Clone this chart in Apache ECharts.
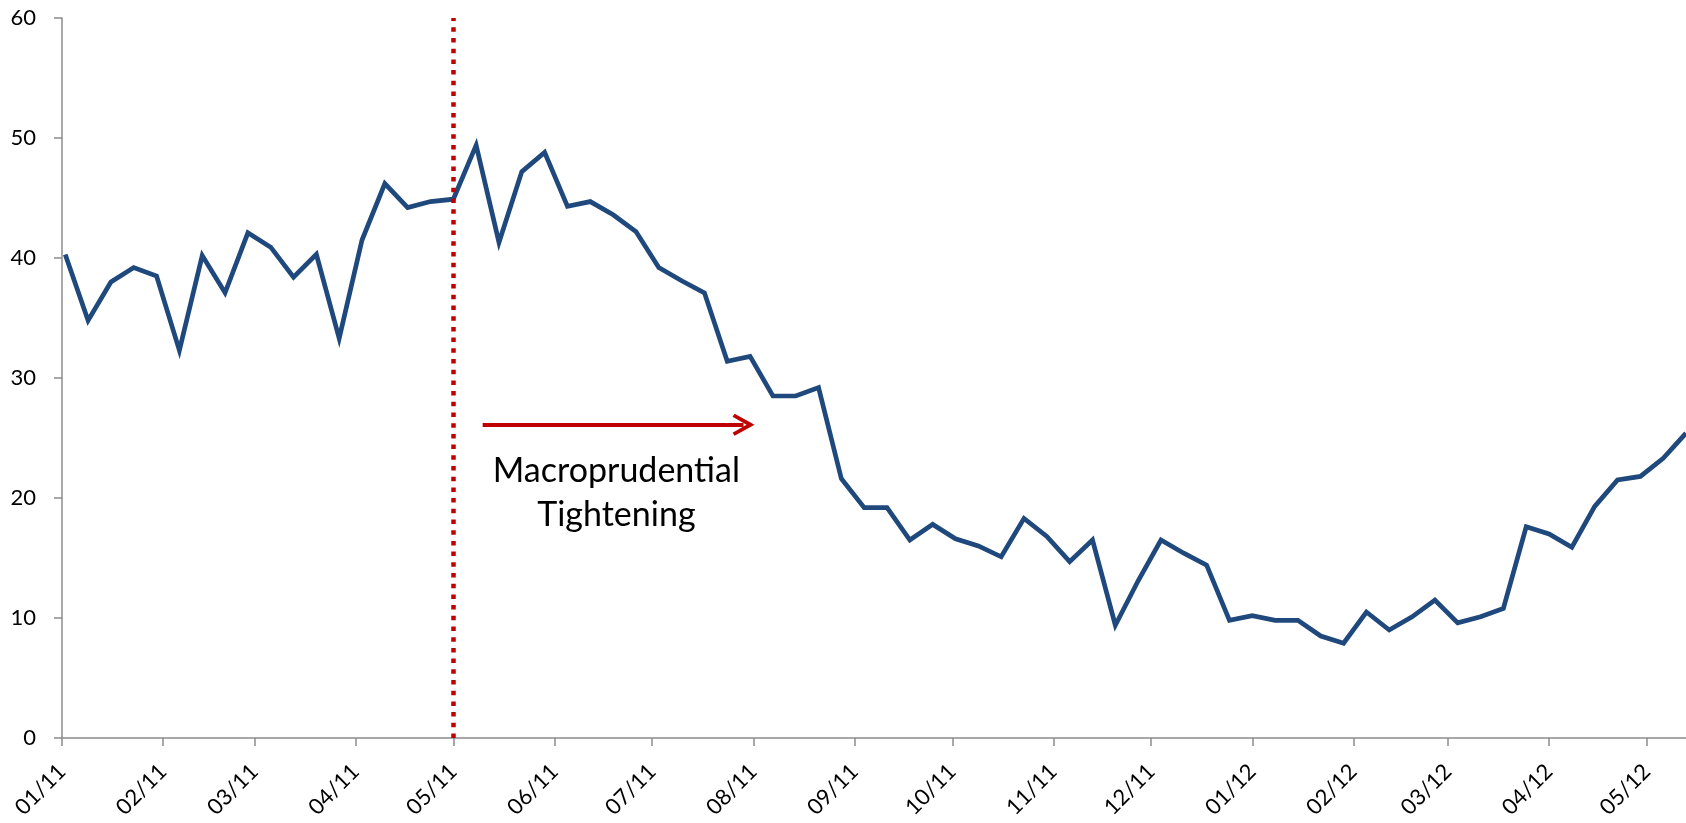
<!DOCTYPE html>
<html>
<head>
<meta charset="utf-8">
<script src="https://cdn.jsdelivr.net/npm/echarts@6/dist/echarts.min.js"></script>
<style>
html,body{margin:0;padding:0;background:#fff;}
#chart{width:1686px;height:823px;}
</style>
</head>
<body>
<div id="chart"></div>
<script>
// Weekly observation dates
const dates = [
 '2011-01-02','2011-01-09','2011-01-16','2011-01-23','2011-01-30',
 '2011-02-06','2011-02-13','2011-02-20','2011-02-27',
 '2011-03-06','2011-03-13','2011-03-20','2011-03-27',
 '2011-04-03','2011-04-10','2011-04-17','2011-04-24',
 '2011-05-01','2011-05-08','2011-05-15','2011-05-22','2011-05-29',
 '2011-06-05','2011-06-12','2011-06-19','2011-06-26',
 '2011-07-03','2011-07-10','2011-07-17','2011-07-24','2011-07-31',
 '2011-08-07','2011-08-14','2011-08-21','2011-08-28',
 '2011-09-04','2011-09-11','2011-09-18','2011-09-25',
 '2011-10-02','2011-10-09','2011-10-16','2011-10-23','2011-10-30',
 '2011-11-06','2011-11-13','2011-11-20','2011-11-27',
 '2011-12-04','2011-12-11','2011-12-18','2011-12-25',
 '2012-01-01','2012-01-08','2012-01-15','2012-01-22','2012-01-29',
 '2012-02-05','2012-02-12','2012-02-19','2012-02-26',
 '2012-03-04','2012-03-11','2012-03-18','2012-03-25',
 '2012-04-01','2012-04-08','2012-04-15','2012-04-22','2012-04-29',
 '2012-05-06','2012-05-13'
];
// Series values
const values = [
 40.3,34.8,38.0,39.2,38.5,
 32.3,40.2,37.1,42.1,
 40.9,38.4,40.3,33.3,
 41.5,46.2,44.2,44.7,
 44.9,49.4,41.3,47.2,48.8,
 44.3,44.7,43.6,42.2,
 39.2,38.1,37.1,31.4,31.8,
 28.5,28.5,29.2,21.6,
 19.2,19.2,16.5,17.8,
 16.6,16.0,15.1,18.3,16.8,
 14.7,16.5,9.4,13.1,
 16.5,15.4,14.4,9.8,
 10.2,9.8,9.8,8.5,7.9,
 10.5,9.0,10.1,11.5,
 9.6,10.1,10.8,17.6,
 17.0,15.9,19.3,21.5,21.8,
 23.3,25.4
];
// Axis extents and ticks
const xMin = '2011-01-01';
const xMax = '2012-05-13';
const yTicks = [0, 10, 20, 30, 40, 50, 60];
// Annotations (data coordinates)
const policyDate = '2011-05-01';
const arrowStart = ['2011-05-10', 26.1];
const arrowEnd = ['2011-07-29', 26.1];
const noteAt = ['2011-06-20', 20.4];
const noteText = 'Macropruden\u200Ctial\nTightening';

function toTs(s){ const p = s.split('-').map(Number); return new Date(p[0], p[1]-1, p[2]).getTime(); }

const seriesData = dates.map((d, i) => [toTs(d), values[i]]);
const FONT = 'Lato, "Open Sans", sans-serif';
const chevron = 'path://M11,0 L22,20 L19,22 L11,8 L3,22 L0,20 Z';

const chart = echarts.init(document.getElementById('chart'), null, {renderer: 'canvas'});
chart.setOption({
  animation: false,
  backgroundColor: '#ffffff',
  grid: {left: 62, right: 0, top: 18, bottom: 85, containLabel: false, outerBoundsMode: 'none'},
  xAxis: {
    type: 'time',
    min: toTs(xMin),
    max: toTs(xMax),
    splitNumber: 17,
    minInterval: 28 * 86400000,
    maxInterval: 31 * 86400000,
    axisLine: {show: true, lineStyle: {color: '#8c8c8c', width: 1.5}},
    axisTick: {show: true, length: 8, lineStyle: {color: '#8c8c8c', width: 1.5}},
    splitLine: {show: false},
    axisLabel: {
      rotate: 45,
      margin: 30,
      color: '#000',
      fontFamily: FONT,
      fontSize: 22,
      hideOverlap: false,
      showMaxLabel: false,
      formatter: function (v) {
        const d = new Date(v);
        const m = d.getMonth() + 1;
        return (m < 10 ? '0' : '') + m + '/' + String(d.getFullYear()).slice(2);
      }
    }
  },
  yAxis: {
    type: 'value',
    min: yTicks[0],
    max: yTicks[yTicks.length - 1],
    interval: yTicks[1] - yTicks[0],
    axisLine: {show: true, lineStyle: {color: '#8c8c8c', width: 1.5}},
    axisTick: {show: true, length: 8, lineStyle: {color: '#8c8c8c', width: 1.5}},
    splitLine: {show: false},
    axisLabel: {margin: 26, color: '#000', fontFamily: FONT, fontSize: 22}
  },
  series: [{
    type: 'line',
    data: seriesData,
    symbol: 'none',
    lineStyle: {color: '#1F497D', width: 4.7, join: 'miter'},
    itemStyle: {color: '#1F497D'},
    markLine: {
      silent: true,
      animation: false,
      label: {show: false},
      data: [
        [{xAxis: toTs(policyDate), yAxis: yTicks[0], symbol: 'none',
          lineStyle: {color: '#C00000', width: 4.5, type: [4.5, 6.2], cap: 'butt'}},
         {xAxis: toTs(policyDate), yAxis: yTicks[yTicks.length - 1], symbol: 'none'}],
        [{coord: [toTs(arrowStart[0]), arrowStart[1]], symbol: 'none',
          lineStyle: {color: '#C00000', width: 4, type: 'solid'}},
         {coord: [toTs(arrowEnd[0]), arrowEnd[1]], symbol: chevron, symbolSize: [22, 22]}]
      ]
    },
    markPoint: {
      silent: true,
      animation: false,
      symbol: 'circle',
      symbolSize: 0,
      itemStyle: {color: 'rgba(0,0,0,0)'},
      label: {
        show: true,
        position: 'inside',
        formatter: noteText,
        color: '#000',
        fontFamily: FONT,
        fontSize: 34,
        lineHeight: 44,
        align: 'center',
        verticalAlign: 'middle'
      },
      data: [{coord: [toTs(noteAt[0]), noteAt[1]], value: 0}]
    }
  }]
});
</script>
</body>
</html>
